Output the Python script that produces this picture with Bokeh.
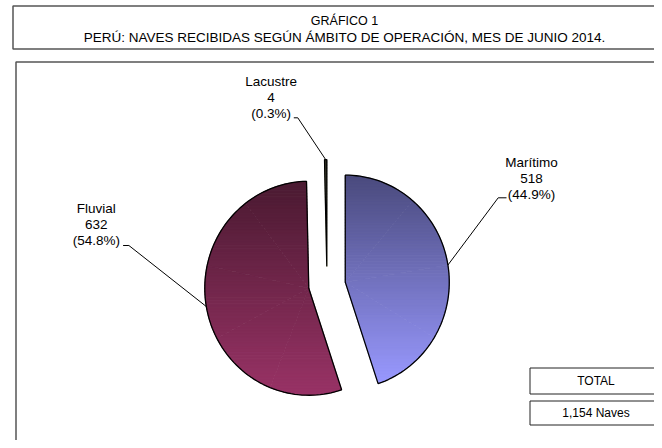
import math
from bokeh.plotting import figure
from bokeh.models import Range1d
from bokeh.core.properties import value
from bokeh.embed import file_html
from bokeh.resources import INLINE

# ---------------- data ----------------
categories = ["Marítimo", "Fluvial", "Lacustre"]
naves = [518, 632, 4]
colors_top = ["#4a4a7c", "#4a1a31", "#333322"]
colors_bottom = ["#9999ff", "#993366", "#ffffcc"]
title_lines = ["GRÁFICO 1",
               "PERÚ: NAVES RECIBIDAS SEGÚN ÁMBITO DE OPERACIÓN, MES DE JUNIO 2014."]
total_label = "TOTAL"
total_unit = "Naves"

# ---------------- layout ----------------
W, H = 654, 440
FONT = value("Liberation Sans")


def Y(py):  # reference pixel row -> data y
    return H - py


p = figure(width=W, height=H, x_range=Range1d(0, W), y_range=Range1d(0, H),
           output_backend="svg", toolbar_location=None, min_border=0,
           x_axis_location=None, y_axis_location=None)
p.grid.visible = False
p.outline_line_color = None
p.background_fill_color = "white"
p.border_fill_color = "white"

# frames
p.quad(left=[12.5], right=[680], top=[Y(5.5)], bottom=[Y(48.5)],
       fill_color=None, line_color="#555555", line_width=1.5)
p.quad(left=[15.5], right=[680], top=[Y(61.5)], bottom=[Y(470)],
       fill_color=None, line_color="#555555", line_width=1.5)

# title
p.text(x=[344], y=[Y(20)], text=title_lines[:1], text_font=FONT,
       text_font_size="12.5px", text_align="center", text_baseline="middle",
       text_color="black")
p.text(x=[344], y=[Y(37)], text=title_lines[1:], text_font=FONT,
       text_font_size="13.5px", text_align="center", text_baseline="middle",
       text_color="black")

# ---------------- pie ----------------
cx, cy = 326.5, Y(284.6)
rx, ry = 104.0, 107.0
explode = 18.5
total = sum(naves)


def hexrgb(h):
    h = h.lstrip("#")
    return [int(h[i:i + 2], 16) for i in (0, 2, 4)]


def mix(c0, c1, t):
    a, b = hexrgb(c0), hexrgb(c1)
    return "#%02x%02x%02x" % tuple(int(round(a[i] + (b[i] - a[i]) * t)) for i in range(3))


def clip(poly, y0, keep_above):
    out = []
    n = len(poly)
    for i in range(n):
        P, Q = poly[i], poly[(i + 1) % n]
        inP = P[1] >= y0 if keep_above else P[1] <= y0
        inQ = Q[1] >= y0 if keep_above else Q[1] <= y0
        if inP:
            out.append(P)
        if inP != inQ:
            t = (y0 - P[1]) / (Q[1] - P[1])
            out.append((P[0] + t * (Q[0] - P[0]), y0))
    return out


strip_xs, strip_ys, strip_cols = [], [], []
out_xs, out_ys = [], []
mids, tips = [], []
start = 90.0
for i, v in enumerate(naves):
    a0 = start
    a1 = start - 360.0 * v / total
    start = a1
    mid = math.radians((a0 + a1) / 2)
    tx = cx + explode * math.cos(mid)
    ty = cy + explode * math.sin(mid)
    mids.append(mid)
    tips.append((tx, ty))
    nseg = max(2, int(abs(a0 - a1) / 2))
    angs = [math.radians(a0 + (a1 - a0) * k / nseg) for k in range(nseg + 1)]
    arc = [(tx + rx * math.cos(a), ty + ry * math.sin(a)) for a in angs]
    outline = [(tx, ty)] + arc
    out_xs.append([q[0] for q in outline])
    out_ys.append([q[1] for q in outline])
    ymax = max(q[1] for q in outline)
    ymin = min(q[1] for q in outline)
    subs = []
    step = 20
    for s in range(0, nseg, step):
        seg = arc[s:min(nseg, s + step) + 1]
        subs.append([(tx, ty)] + seg)
    nb = 70
    for b in range(nb):
        y1 = ymax - (ymax - ymin) * b / nb
        y0 = ymax - (ymax - ymin) * (b + 1) / nb
        col = mix(colors_top[i], colors_bottom[i], (b + 0.5) / nb)
        for sp in subs:
            c = clip(clip(sp, y0 - 0.3, True), y1 + 0.3, False)
            if len(c) >= 3:
                strip_xs.append([q[0] for q in c])
                strip_ys.append([q[1] for q in c])
                strip_cols.append(col)

p.patches(xs=strip_xs, ys=strip_ys, fill_color=strip_cols, line_color=strip_cols,
          line_width=0.6)
p.patches(xs=out_xs, ys=out_ys, fill_color=None, line_color="black", line_width=1.3)

# ---------------- labels ----------------
label_pos = [(531, 161.7), (95.8, 208.3), (270.6, 80.7)]
elbows = [((497.7, 197.3), (506.0, 197.3)),
          ((128.4, 245.0), (122.6, 245.0)),
          ((297.3, 117.3), (293.3, 117.3))]
lx, ly = [], []
for i, cat in enumerate(categories):
    tx, ty = tips[i]
    ex = tx + rx * math.cos(mids[i])
    ey = ty + ry * math.sin(mids[i])
    (e1x, e1y), (e2x, e2y) = elbows[i]
    lx.append([ex, e1x, e2x])
    ly.append([ey, Y(e1y), Y(e2y)])
p.multi_line(xs=lx, ys=ly, line_color="black", line_width=1)

tx_, ty_, tt_ = [], [], []
for i, cat in enumerate(categories):
    x0, y0 = label_pos[i]
    lines = [cat, f"{naves[i]:,}", f"({naves[i] / total * 100:.1f}%)"]
    for k, s in enumerate(lines):
        tx_.append(x0)
        ty_.append(Y(y0 + 15.9 * k))
        tt_.append(s)
p.text(x=tx_, y=ty_, text=tt_, text_font=FONT, text_font_size="13.5px",
       text_align="center", text_baseline="middle", text_color="black")

# ---------------- total boxes ----------------
p.quad(left=[529.5, 529.5], right=[662, 662], top=[Y(367.5), Y(400.5)],
       bottom=[Y(393.5), Y(424.5)], fill_color="white", line_color="#222222",
       line_width=1)
p.text(x=[595.5, 595.5], y=[Y(380.5), Y(412.5)],
       text=[total_label, f"{total:,} {total_unit}"], text_font=FONT,
       text_font_size="12px", text_align="center", text_baseline="middle",
       text_color="black")

open("out.html", "w").write(file_html(p, INLINE))
